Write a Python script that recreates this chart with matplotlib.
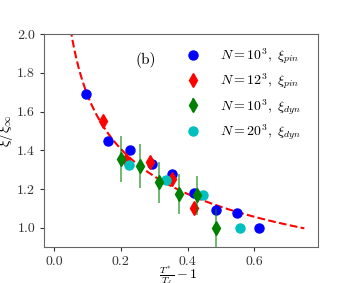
import numpy as np
import matplotlib
matplotlib.use('Agg')
import matplotlib.pyplot as plt

plt.rcParams['font.family'] = 'serif'
plt.rcParams['font.serif'] = ['cmr10', 'DejaVu Serif']
plt.rcParams['mathtext.fontset'] = 'cm'
plt.rcParams['axes.formatter.use_mathtext'] = True

# N=10^3, xi_pin
x_pin10 = [0.097, 0.162, 0.226, 0.292, 0.354, 0.418, 0.485, 0.549, 0.614]
y_pin10 = [1.69, 1.45, 1.40, 1.33, 1.28, 1.18, 1.095, 1.075, 1.00]
# N=12^3, xi_pin
x_pin12 = [0.147, 0.216, 0.287, 0.352, 0.418]
y_pin12 = [1.55, 1.35, 1.34, 1.25, 1.105]
# N=10^3, xi_dyn (with error bars)
x_dyn10 = [0.200, 0.257, 0.315, 0.374, 0.428, 0.486]
y_dyn10 = [1.355, 1.32, 1.235, 1.175, 1.168, 1.00]
e_dyn10 = [0.12, 0.115, 0.105, 0.105, 0.10, 0.10]
# N=20^3, xi_dyn
x_dyn20 = [0.223, 0.334, 0.446, 0.557]
y_dyn20 = [1.322, 1.245, 1.168, 1.00]

# power-law fit  xi/xi_inf = A * x^(-nu)
fit_A = 0.926
fit_nu = 0.26
fit_range = (0.04, 0.75)

fig = plt.figure(figsize=(3.53, 2.83), dpi=100)
ax = fig.add_axes([0.125, 0.126, 0.775, 0.754])

xf = np.linspace(fit_range[0], fit_range[1], 300)
ax.plot(xf, fit_A * xf ** (-fit_nu), '--', color='r', lw=1.5, zorder=1)

h1, = ax.plot(x_pin10, y_pin10, 'o', color='b', ms=6.5, ls='none',
              label=r'$N=10^3,\ \xi_{pin}$', zorder=3)
h2, = ax.plot(x_pin12, y_pin12, 'd', color='r', ms=7, ls='none',
              label=r'$N=12^3,\ \xi_{pin}$', zorder=3)
h3 = ax.errorbar(x_dyn10, y_dyn10, yerr=e_dyn10, fmt='d', color='g', ms=7,
                 ecolor=(0.0, 0.5, 0.0, 0.6), elinewidth=1.3, capsize=0,
                 label=r'$N=10^3,\ \xi_{dyn}$', zorder=3)
h4, = ax.plot(x_dyn20, y_dyn20, 'o', color='c', ms=6.5, ls='none',
              label=r'$N=20^3,\ \xi_{dyn}$', zorder=3)

ax.text(0.276, 1.868, '(b)', fontsize=11, ha='center', va='center')

ax.set_xlim(-0.03, 0.79)
ax.set_ylim(0.9, 2.0)
ax.set_xticks([0.0, 0.2, 0.4, 0.6])
ax.set_yticks([1.0, 1.2, 1.4, 1.6, 1.8, 2.0])
ax.set_xticklabels(['0.0', '0.2', '0.4', '0.6'])
ax.set_yticklabels(['1.0', '1.2', '1.4', '1.6', '1.8', '2.0'])
ax.tick_params(labelsize=10, colors='#333333', length=3, width=0.8)
for s in ax.spines.values():
    s.set_color('#666666')

ax.set_xlabel(r'$\frac{T^*}{T_d}-1$', fontsize=10)
ax.xaxis.set_label_coords(0.49, -0.082)
ax.set_ylabel(r'$\xi/\xi_\infty$', fontsize=11)
ax.yaxis.set_label_coords(-0.105, 0.55)

hl = ax.legend([h1, h2, h3, h4], [h.get_label() for h in [h1, h2, h3, h4]],
               loc='upper left', bbox_to_anchor=(0.46, 1.0), frameon=False,
               fontsize=10, handletextpad=1.2, handlelength=1.5,
               labelspacing=0.38, numpoints=1)

fig.savefig('out.png', dpi=100)
